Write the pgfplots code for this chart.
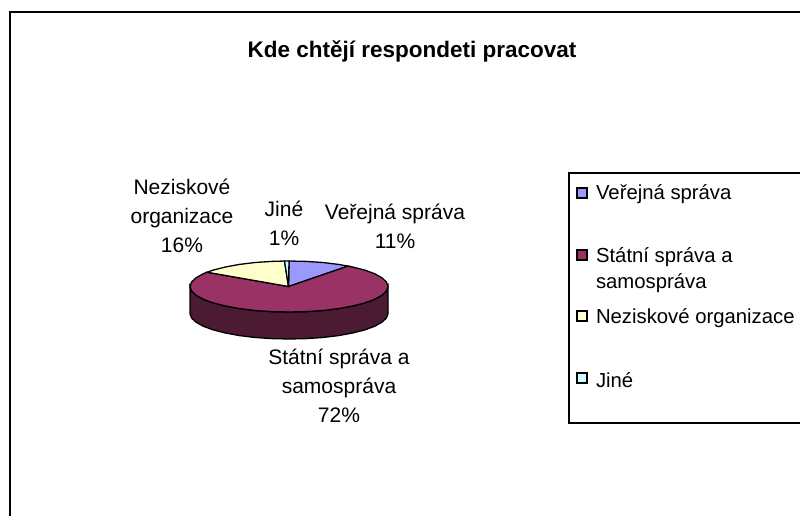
\documentclass[border=0pt]{standalone}
\usepackage{fontspec}
\setmainfont{Liberation Sans}
\usepackage{pgfplots}
\pgfplotsset{compat=1.18}
\definecolor{cA}{HTML}{9999FF}
\definecolor{cB}{HTML}{993366}
\definecolor{cBd}{HTML}{4D1A33}
\definecolor{cC}{HTML}{FFFFCC}
\definecolor{cD}{HTML}{CCFFFF}
\newcommand{\lab}{\fontsize{21}{28.7}\selectfont}
\newcommand{\leg}{\fontsize{20.3}{26}\selectfont}
\begin{document}
\begin{tikzpicture}[x=1pt,y=1pt]
\clip (0,0) rectangle (800,516);
\begin{axis}[at={(0,0)},anchor=south west,scale only axis,width=800pt,height=516pt,
 xmin=0,xmax=800,ymin=0,ymax=516,y dir=reverse,hide axis,clip=false]
% frame
\addplot[black,line width=1.8pt,forget plot] coordinates {(10,530)(10,12)(810,12)};
% side of the pie
\addplot[fill=cBd,draw=black,line width=1.3pt] coordinates {
(388,286.5)(386.5,290.9)(382,295.2)(374.7,299.25)(364.8,302.9)(352.6,306)(338.5,308.6)(322.9,310.5)(306.2,311.6)(289,312)(271.8,311.6)(255.1,310.5)(239.5,308.6)(225.4,306)(213.2,302.9)(203.3,299.25)(196,295.2)(191.5,290.9)(190,286.5)
(190,313.5)(191.5,317.9)(196,322.2)(203.3,326.25)(213.2,329.9)(225.4,333)(239.5,335.6)(255.1,337.5)(271.8,338.6)(289,339)(306.2,338.6)(322.9,337.5)(338.5,335.6)(352.6,333)(364.8,329.9)(374.7,326.25)(382,322.2)(386.5,317.9)(388,313.5)} -- cycle;
% Verejna sprava 11
\addplot[fill=cA,draw=black,line width=1.3pt] coordinates {
(288.5,286.5)(289,261)(306.2,261.4)(322.9,262.5)(338.5,264.4)(348,266.1)} -- cycle;
% Statni sprava 72
\addplot[fill=cB,draw=black,line width=1.3pt] coordinates {
(288.5,286.5)(348,266.1)(352.6,267)(364.8,270.1)(374.7,273.75)(382,277.8)(386.5,282.1)(388,286.5)(386.5,290.9)(382,295.2)(374.7,299.25)(364.8,302.9)(352.6,306)(338.5,308.6)(322.9,310.5)(306.2,311.6)(289,312)(271.8,311.6)(255.1,310.5)(239.5,308.6)(225.4,306)(213.2,302.9)(203.3,299.25)(196,295.2)(191.5,290.9)(190,286.5)(191.5,282.1)(196,277.8)(203.3,273.75)(207,272.2)} -- cycle;
% Neziskove 16
\addplot[fill=cC,draw=black,line width=1.3pt] coordinates {
(288.5,286.5)(207,272.2)(213.2,270.1)(225.4,267)(239.5,264.4)(255.1,262.5)(271.8,261.4)(284.5,261.03)} -- cycle;
% Jine 1
\addplot[fill=cD,draw=black,line width=1.3pt] coordinates {
(288.5,286.5)(284.5,261.03)(289,261)} -- cycle;
% legend box
\addplot[fill=white,draw=black,line width=1.4pt] coordinates {(569,173)(815,173)(815,423)(569,423)} -- cycle;
\addplot[fill=cA,draw=black,line width=1.2pt] coordinates {(577,188)(587,188)(587,198)(577,198)} -- cycle;
\addplot[fill=cB,draw=black,line width=1.2pt] coordinates {(577,250)(587,250)(587,260)(577,260)} -- cycle;
\addplot[fill=cC,draw=black,line width=1.2pt] coordinates {(577,311)(587,311)(587,321)(577,321)} -- cycle;
\addplot[fill=cD,draw=black,line width=1.2pt] coordinates {(577,373)(587,373)(587,383)(577,383)} -- cycle;
\node[font=\fontsize{22.5}{26}\selectfont\bfseries] at (axis cs:412,51) {Kde chtějí respondeti pracovat};
\node[font=\lab,align=center] at (axis cs:182,216) {Neziskové\\organizace\\16\%};
\node[font=\lab,align=center] at (axis cs:284,223) {Jiné\\1\%};
\node[font=\lab,align=center] at (axis cs:395,226) {Veřejná správa\\11\%};
\node[font=\lab,align=center] at (axis cs:339,386) {Státní správa a\\samospráva\\72\%};
\node[font=\leg,anchor=west] at (axis cs:592.5,194) {Veřejná správa};
\node[font=\leg,anchor=west,align=left] at (axis cs:592.5,270) {Státní správa a\\samospráva};
\node[font=\leg,anchor=west] at (axis cs:592.5,318) {Neziskové organizace};
\node[font=\leg,anchor=west] at (axis cs:592.5,380) {Jiné};
\end{axis}
\end{tikzpicture}
\end{document}
